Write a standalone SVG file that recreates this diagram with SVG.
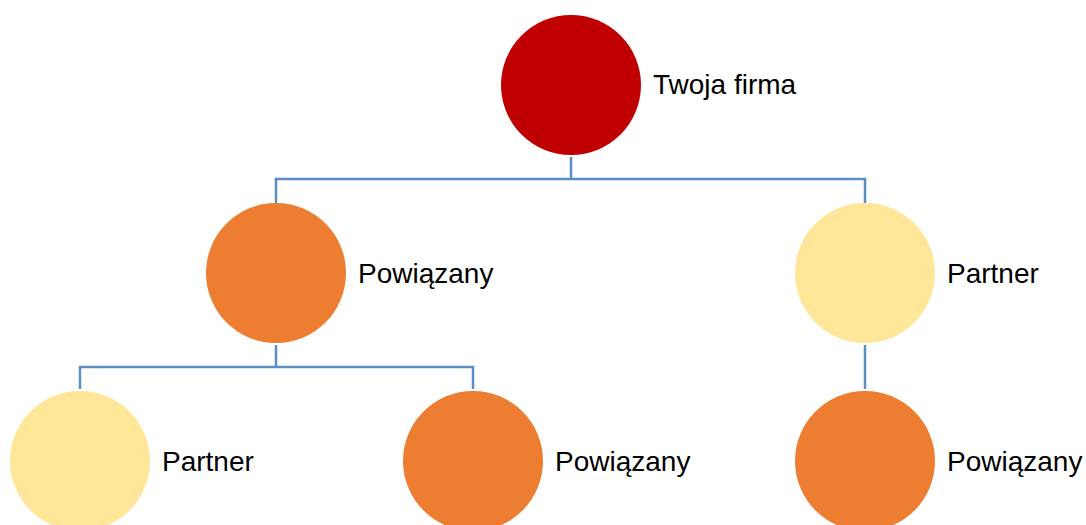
<svg xmlns="http://www.w3.org/2000/svg" width="1086" height="525" viewBox="0 0 1086 525">
<style>
.red{fill:#C00000}
.org{fill:#ED7D31}
.yel{fill:#FFE699}
.lbl{font-family:"Liberation Sans",Arial,sans-serif;font-size:28px;fill:#000}
.con{fill:none;stroke:#5B8EC2;stroke-width:2.5}
</style>
<rect width="1086" height="525" fill="#fff"/>
<g id="connectors">
<polyline class="con" points="571,157 571,179"/>
<polyline class="con" points="276,203 276,179 865,179 865,203"/>
<polyline class="con" points="276,345 276,367"/>
<polyline class="con" points="80,389 80,367 473,367 473,389"/>
<polyline class="con" points="865,345 865,389"/>
</g>
<g id="n-twoja"><circle class="red" cx="571" cy="85" r="70"/><text class="lbl" x="653" y="94">Twoja firma</text></g>
<g id="n-pow1"><circle class="org" cx="276" cy="273" r="70"/><text class="lbl" x="358" y="283">Powiązany</text></g>
<g id="n-part1"><circle class="yel" cx="865" cy="273" r="70"/><text class="lbl" x="947" y="283">Partner</text></g>
<g id="n-part2"><circle class="yel" cx="80" cy="461" r="70"/><text class="lbl" x="162" y="471">Partner</text></g>
<g id="n-pow2"><circle class="org" cx="473" cy="461" r="70"/><text class="lbl" x="555" y="471">Powiązany</text></g>
<g id="n-pow3"><circle class="org" cx="865" cy="461" r="70"/><text class="lbl" x="947" y="471">Powiązany</text></g>
</svg>
